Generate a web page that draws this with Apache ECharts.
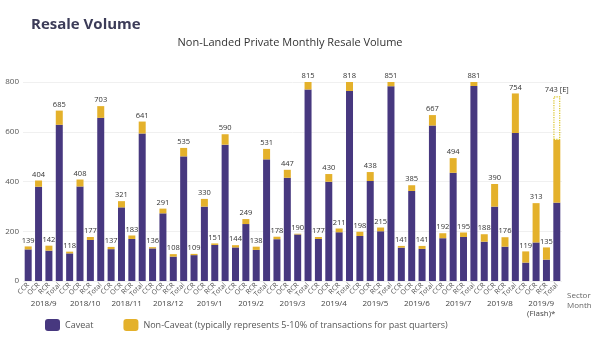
<!DOCTYPE html>
<html><head><meta charset="utf-8">
<script src="https://cdn.jsdelivr.net/npm/echarts@6/dist/echarts.min.js"></script>
<style>html,body{margin:0;padding:0;background:#fff}#c{width:600px;height:360px}</style>
</head><body><div id="c"></div>
<script>
const months = ['2018/9','2018/10','2018/11','2018/12','2019/1','2019/2','2019/3','2019/4','2019/5','2019/6','2019/7','2019/8','2019/9\n(Flash)*'];
const sectors = ['CCR','OCR','RCR','Total'];
const caveat = [
  127,379,122,628,
  111,380,165,656,
  128,296,169,593,
  131,272,98,501,
  104,299,145,548,
  135,229,125,489,
  168,415,187,770,
  169,399,196,764,
  181,402,200,783,
  134,362,129,625,
  172,435,177,784,
  158,299,138,595,
  74,155,86,315
];
const nonCaveat = [
  12,25,20,57,
  7,28,12,47,
  9,25,14,48,
  5,19,10,34,
  5,31,6,42,
  9,20,13,42,
  10,32,3,45,
  8,31,15,54,
  17,36,15,68,
  7,23,12,42,
  20,59,18,97,
  30,91,38,159,
  45,158,49,252
];
const totals = [
  139,404,142,685,
  118,408,177,703,
  137,321,183,641,
  136,291,108,535,
  109,330,151,590,
  144,249,138,531,
  178,447,190,815,
  177,430,211,818,
  198,438,215,851,
  141,385,141,667,
  192,494,195,881,
  188,390,176,754,
  119,313,135,567
];
const estimateTop = 176;       // dotted estimate on top of last Total
const estimateLabel = '743 [E]';

const cats = [];
months.forEach((m,i)=>sectors.forEach(s=>cats.push(s)));
const n = cats.length;
const estData = cats.map((c,i)=> i===n-1 ? estimateTop : null);

const PURPLE = '#47387f', YELLOW = '#e4b12b';
const FONT = 'Open Sans';

const chart = echarts.init(document.getElementById('c'), null, {renderer:'canvas'});
chart.setOption({
  animation:false,
  textStyle:{fontFamily:FONT},
  title:[
    {text:'Resale Volume', left:26, top:12, textStyle:{fontSize:15, fontWeight:'bold', color:'#3c3c58', fontFamily:FONT}},
    {text:'Non-Landed Private Monthly Resale Volume', left:285, textAlign:'center', top:32, textStyle:{fontSize:11, fontWeight:'normal', color:'#333', fontFamily:FONT}}
  ],
  legend:{
    left:40, top:314, itemWidth:15, itemHeight:12, itemGap:30,
    data:['Caveat','Non-Caveat (typically represents 5-10% of transactions for past quarters)'],
    textStyle:{fontSize:9, color:'#555', fontFamily:FONT}
  },
  grid:{left:23, right:38, top:82, bottom:79},
  xAxis:[
    {type:'category', data:cats, position:'bottom',
      axisLine:{show:false}, axisTick:{show:false},
      axisLabel:{interval:0, rotate:45, fontSize:7, color:'#555', margin:3, fontFamily:FONT}},
    {type:'category', data:months, position:'bottom', offset:10,
      axisLine:{show:false}, axisTick:{show:false},
      axisLabel:{interval:0, fontSize:8, color:'#444', lineHeight:10, fontFamily:FONT}}
  ],
  yAxis:{type:'value', min:0, max:800, interval:200,
    axisLine:{show:false}, axisTick:{show:false},
    splitLine:{lineStyle:{color:'#f0f0f0'}},
    axisLabel:{fontSize:8, color:'#555', margin:4, fontFamily:FONT}},
  graphic:[
    {type:'text', left:567, top:291, style:{text:'Sector\nMonth', fontSize:8, lineHeight:10, fill:'#666', fontFamily:FONT, align:'center'}}
  ],
  series:[
    {name:'Caveat', type:'bar', stack:'a', data:caveat, barWidth:7, itemStyle:{color:PURPLE}},
    {name:'Non-Caveat (typically represents 5-10% of transactions for past quarters)', type:'bar', stack:'a', data:nonCaveat, barWidth:7,
      itemStyle:{color:YELLOW},
      label:{show:true, position:'top', distance:2, fontSize:7.5, color:'#333', fontFamily:FONT,
        formatter:p=> p.dataIndex===n-1 ? '' : String(totals[p.dataIndex])}},
    {name:'Estimate', type:'bar', stack:'a', data:estData, barWidth:7,
      itemStyle:{color:'rgba(255,255,255,0)', borderColor:'#d8c21f', borderWidth:1.2, borderType:'dotted'},
      label:{show:true, position:'top', distance:2, fontSize:7.5, color:'#333', fontFamily:FONT, formatter:estimateLabel}}
  ]
});
</script></body></html>
